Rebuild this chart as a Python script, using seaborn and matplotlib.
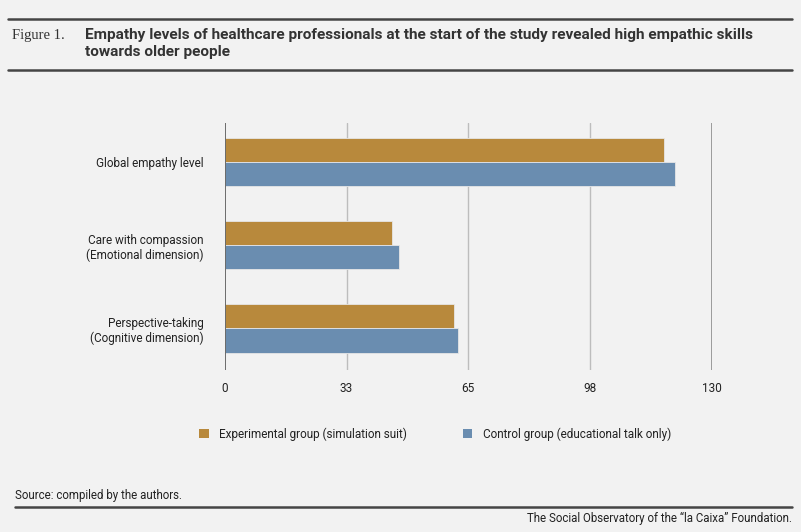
import matplotlib
matplotlib.use("Agg")
import matplotlib.pyplot as plt
import seaborn as sns
import pandas as pd
from matplotlib.lines import Line2D
from matplotlib.patches import Patch

categories = ["Global empathy level",
              "Care with compassion\n(Emotional dimension)",
              "Perspective-taking\n(Cognitive dimension)"]
experimental = [117.4, 44.5, 61.3]
control = [120.3, 46.5, 62.2]
series_names = ["Experimental group (simulation suit)",
                "Control group (educational talk only)"]
tick_values = [0, 32.5, 65, 97.5, 130]
tick_labels = ["0", "33", "65", "98", "130"]

colors = ["#b8893c", "#6a8db0"]
bg = "#f2f2f2"

df = pd.DataFrame({
    "category": categories * 2,
    "value": experimental + control,
    "group": [series_names[0]] * 3 + [series_names[1]] * 3,
})

sns.set_theme(style="white")
plt.rcParams["font.family"] = ["Roboto", "DejaVu Sans"]

fig = plt.figure(figsize=(8.01, 5.32), dpi=100, facecolor=bg)
ax = fig.add_axes([225 / 801, 1 - 370 / 532, 486.5 / 801, 247 / 532])
ax.set_facecolor(bg)

sns.barplot(data=df, y="category", x="value", hue="group", orient="h",
            palette=colors, width=0.58, ax=ax, legend=False,
            edgecolor="#e6e6e6", linewidth=0.6, saturation=1)

ax.set_xlim(0, 130)
ax.set_ylim(2.5, -0.47)
ax.set_xticks(tick_values)
ax.set_xticklabels(tick_labels, fontsize=8.5, color="#222222")
ax.tick_params(axis="x", length=0, pad=9)
ax.tick_params(axis="y", length=0, pad=15.5)
for lbl in ax.get_yticklabels():
    lbl.set_fontsize(8.5)
    lbl.set_color("#222222")
    lbl.set_horizontalalignment("right")
ax.set_xlabel("")
ax.set_ylabel("")
for s in ax.spines.values():
    s.set_visible(False)

for v in tick_values[1:-1]:
    ax.axvline(v, color="#bdbdbd", lw=1, zorder=0)
ax.axvline(130, color="#8c8c8c", lw=1.2, zorder=0)
ax.axvline(0, color="#555555", lw=1.2, zorder=3)

# header
fig.add_artist(Line2D([8 / 801, 792 / 801], [1 - 19 / 532] * 2, color="#454545", lw=1.8))
fig.add_artist(Line2D([8 / 801, 792 / 801], [1 - 70 / 532] * 2, color="#454545", lw=1.8))
fig.text(12 / 801, 1 - 35 / 532, "Figure 1.", family=["Liberation Serif", "DejaVu Serif"],
         fontsize=10.5, color="#333333", va="center", ha="left")
fig.text(85 / 801, 1 - 43.5 / 532,
         "Empathy levels of healthcare professionals at the start of the study revealed high empathic skills\ntowards older people",
         fontsize=11.05, fontweight="bold", color="#333333", va="center", ha="left",
         linespacing=1.3)

# legend
handles = [Patch(facecolor=c, edgecolor="none") for c in colors]
leg = fig.legend(handles, series_names, loc="center", bbox_to_anchor=(435 / 801, 1 - 434 / 532),
                 ncol=2, frameon=False, fontsize=8.5, handlelength=0.8, handleheight=0.8,
                 columnspacing=4.7, handletextpad=0.9)
for t in leg.get_texts():
    t.set_color("#222222")

# footer
fig.text(15 / 801, 1 - 496 / 532, "Source: compiled by the authors.", fontsize=8.3,
         color="#222222", va="center", ha="left")
fig.add_artist(Line2D([15 / 801, 792 / 801], [1 - 507 / 532] * 2, color="#454545", lw=1.8))
fig.text(792 / 801, 1 - 518 / 532, "The Social Observatory of the \u201cla Caixa\u201d Foundation.",
         fontsize=8.3, color="#222222", va="center", ha="right")

fig.savefig("out.png", dpi=100, facecolor=bg)
